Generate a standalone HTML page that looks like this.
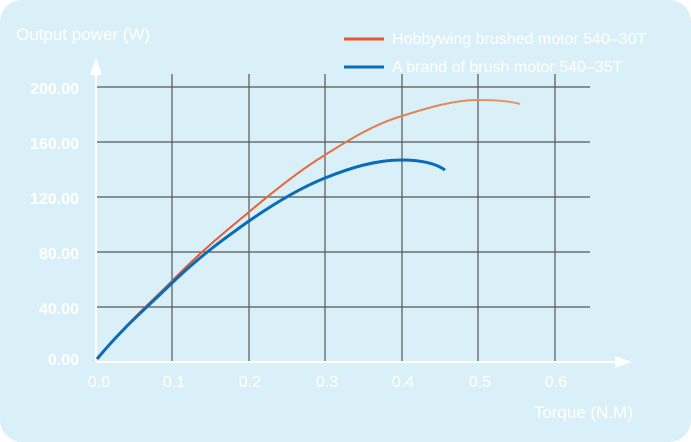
<!DOCTYPE html>
<html><head><style>
html,body{margin:0;padding:0;background:#fff;}
svg{display:block;}
text{font-family:"Liberation Sans",sans-serif;fill:#fff;}
</style></head><body>
<svg width="691" height="442" viewBox="0 0 691 442">
<defs><linearGradient id="og" gradientUnits="userSpaceOnUse" x1="97" y1="0" x2="520" y2="0"><stop offset="0" stop-color="#e8452a"/><stop offset="0.5" stop-color="#e86a3a"/><stop offset="1" stop-color="#e09a6a"/></linearGradient></defs>
<rect x="0" y="0" width="691" height="442" rx="22" fill="#daf0f9"/>
<text x="16" y="40" font-size="17">Output power (W)</text>
<rect x="344" y="37.5" width="40" height="3" fill="#e8552e"/>
<text x="392" y="44" font-size="16">Hobbywing brushed motor 540–30T</text>
<rect x="344" y="65.5" width="40" height="3" fill="#0a6bb8"/>
<text x="392" y="72" font-size="16">A brand of brush motor 540–35T</text>
<g stroke="#555" stroke-width="1.2">
<line x1="97" y1="87" x2="590" y2="87"/><line x1="97" y1="142" x2="590" y2="142"/>
<line x1="97" y1="197" x2="590" y2="197"/><line x1="97" y1="252" x2="590" y2="252"/>
<line x1="97" y1="307" x2="590" y2="307"/>
<line x1="172" y1="74" x2="172" y2="361"/><line x1="249" y1="74" x2="249" y2="361"/>
<line x1="325" y1="74" x2="325" y2="361"/><line x1="402" y1="74" x2="402" y2="361"/>
<line x1="478" y1="74" x2="478" y2="361"/><line x1="555" y1="74" x2="555" y2="361"/>
</g>
<g stroke="#fff" stroke-width="2" fill="#fff">
<line x1="96" y1="361" x2="96" y2="70"/><polygon points="96,58 90,75 102,75" stroke="none"/>
<line x1="96" y1="362" x2="620" y2="362"/><polygon points="632,362 615,356 615,368" stroke="none"/>
</g>
<g font-size="16" font-weight="bold" text-anchor="end">
<text x="79" y="94">200.00</text><text x="79" y="149">160.00</text><text x="79" y="204">120.00</text>
<text x="79" y="259">80.00</text><text x="79" y="314">40.00</text><text x="79" y="365">0.00</text>
</g>
<g font-size="16" text-anchor="middle">
<text x="99" y="387">0.0</text><text x="174" y="387">0.1</text><text x="250" y="387">0.2</text>
<text x="327" y="387">0.3</text><text x="403" y="387">0.4</text><text x="480" y="387">0.5</text><text x="556" y="387">0.6</text>
</g>
<text x="633" y="418" font-size="17" text-anchor="end">Torque (N.M)</text>
<path d="M97,359 C125,325 150,303 172,281 C200,252 225,232 249,212 C275,190 300,170 325,155 C350,139 375,124 402,116 C430,107 455,100 478,100 C495,100 510,101 520,104" fill="none" stroke="url(#og)" stroke-width="2"/>
<path d="M97,359 C125,325 150,305 172,283 C200,256 225,238 249,221 C275,203 300,188 325,178 C350,168 375,160 402,160 C420,160 435,163 445,170" fill="none" stroke="#0a6bb8" stroke-width="3"/>
</svg>
</body></html>
